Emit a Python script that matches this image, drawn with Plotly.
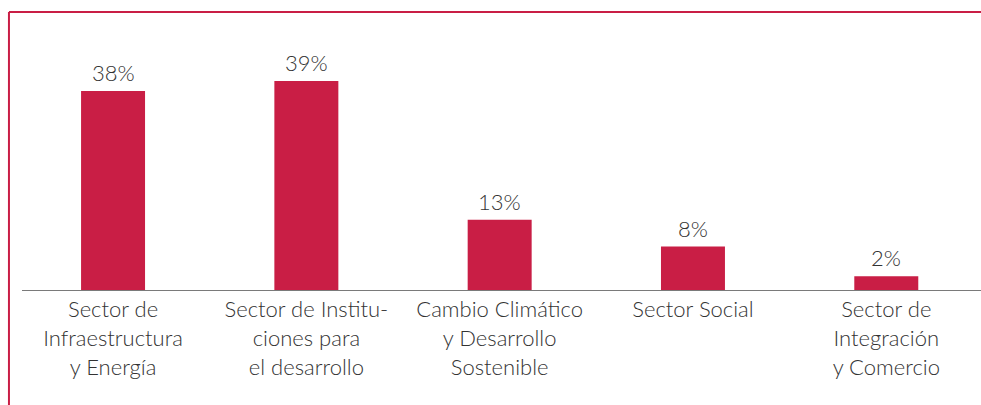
import plotly.graph_objects as go

categories = [
    "Sector de<br>Infraestructura<br>y Energía",
    "Sector de Institu-<br>ciones para<br>el desarrollo",
    "Cambio Climático<br>y Desarrollo<br>Sostenible",
    "Sector Social",
    "Sector de<br>Integración<br>y Comercio",
]
values = [37.6, 39.5, 13.3, 8.2, 2.6]
value_labels = ["38%", "39%", "13%", "8%", "2%"]

RED = "#C91E45"
TEXT = "#333333"
FONT = "Lato Light, Lato"

fig = go.Figure(
    go.Bar(
        x=categories,
        y=values,
        marker=dict(color=RED, line=dict(width=0)),
        width=0.331,
        hoverinfo="skip",
    )
)

for cat, val, lab in zip(categories, values, value_labels):
    fig.add_annotation(
        x=cat, y=val, text=lab, showarrow=False,
        yanchor="bottom", yshift=3,
        font=dict(family=FONT, size=22, color=TEXT, weight=300),
    )

fig.update_layout(
    width=981,
    height=405,
    margin=dict(l=22, r=0, t=12, b=115),
    paper_bgcolor="white",
    plot_bgcolor="white",
    showlegend=False,
    font=dict(family=FONT, size=22, color=TEXT, weight=300),
    xaxis=dict(
        type="category",
        range=[-0.471, 4.49],
        showline=True,
        linecolor="#7a7a7a",
        linewidth=1,
        ticks="",
        showgrid=False,
        fixedrange=True,
        tickfont=dict(family=FONT, size=22, color=TEXT, weight=300),
    ),
    yaxis=dict(
        range=[0, 52.55],
        visible=False,
        showgrid=False,
        zeroline=False,
        fixedrange=True,
    ),
    shapes=[
        dict(type="line", xref="paper", yref="paper", x0=-0.0136, x1=1.0, y0=1.0, y1=1.0,
             line=dict(color=RED, width=2)),
        dict(type="line", xref="paper", yref="paper", x0=-0.0136, x1=-0.0136, y0=1.0, y1=-0.45,
             line=dict(color=RED, width=2)),
    ],
)

fig.write_html(
    "out.html",
    config={"displayModeBar": False},
    post_script="document.body.style.margin='0';document.body.style.padding='0';",
)
